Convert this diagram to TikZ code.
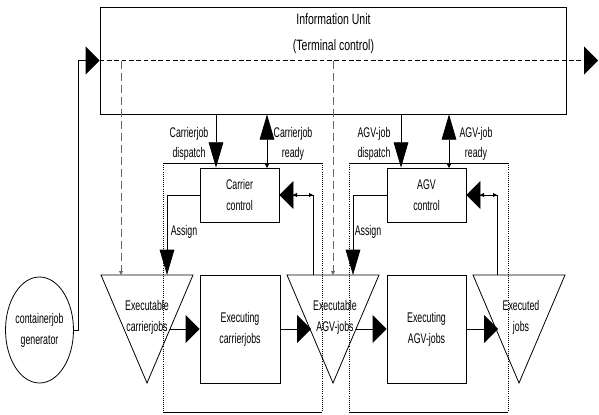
\documentclass[tikz,border=0pt]{standalone}
\usepackage{fontspec}
\setmainfont[FakeStretch=0.63]{Liberation Sans}
\newfontfamily\titlefont[FakeStretch=0.70]{Liberation Sans}
\usetikzlibrary{arrows.meta,shapes.geometric}
\tikzset{
  hB/.tip={Triangle[length=10.5pt,width=21pt]},
  vB/.tip={Triangle[length=19pt,width=11pt]},
  sm/.tip={Triangle[length=3pt,width=3pt]}
}
\begin{document}
\begin{tikzpicture}[x=0.75pt,y=-0.75pt,line width=0.6pt,
  lbl/.style={font=\fontsize{10.5}{15}\selectfont, align=center, inner sep=0pt},
  box/.style={draw, rectangle, inner sep=0pt, align=center, font=\fontsize{10.5}{15.75}\selectfont},
  hdash/.style={dash pattern=on 3.5pt off 2pt},
  vdash/.style={dash pattern=on 6pt off 3pt, draw=black!60},
  loopside/.style={densely dotted}
]
\useasboundingbox (0,0) rectangle (599,414);

% main boxes
\node[box, minimum width=349.5pt, minimum height=80.25pt] (info) at (333,60.5) {};
\node[lbl, font=\titlefont\fontsize{11.25}{19.5}\selectfont] (infotxt) at (333.5,34) {Information Unit\\(Terminal control)};

\node[draw, ellipse, minimum width=39pt, minimum height=79.5pt, inner sep=0pt, align=center,
      font=\fontsize{10.5}{15.75}\selectfont] (gen) at (39.5,330) {containerjob\\generator};

\node[box, minimum width=59.25pt, minimum height=40.5pt] (cc) at (239.5,195) {Carrier\\control};
\node[box, minimum width=59.25pt, minimum height=40.5pt] (ac) at (426.5,195) {AGV\\control};
\node[box, minimum width=60pt, minimum height=81pt] (ex1) at (240,329) {Executing\\carrierjobs};
\node[box, minimum width=59.25pt, minimum height=81pt] (ex2) at (426.5,329) {Executing\\AGV-jobs};

% triangles
\coordinate (t1a) at (101,275); \coordinate (t1b) at (193,275); \coordinate (t1c) at (147,383);
\draw (t1a) -- (t1b) -- (t1c) -- cycle;
\node[lbl, font=\fontsize{10.5}{15.75}\selectfont] (t1txt) at (147,317.5) {Executable\\carrierjobs};
\coordinate (t2a) at (287,275); \coordinate (t2b) at (379,275); \coordinate (t2c) at (333,383);
\draw (t2a) -- (t2b) -- (t2c) -- cycle;
\node[lbl, font=\fontsize{10.5}{15.75}\selectfont] (t2txt) at (335,317) {Executable\\AGV-jobs};
\coordinate (t3a) at (473,275); \coordinate (t3b) at (565,275); \coordinate (t3c) at (519,383);
\draw (t3a) -- (t3b) -- (t3c) -- cycle;
\node[lbl, font=\fontsize{10.5}{15.75}\selectfont] (t3txt) at (521,317) {Executed\\jobs};

% loop frames
\coordinate (l1a) at (163,163); \coordinate (l1b) at (322,412);
\draw (l1a) -- (l1a -| l1b);
\draw (l1a |- l1b) -- (l1b);
\draw[loopside] (l1a) -- (l1a |- l1b);
\draw[loopside] (l1a -| l1b) -- (l1b);
\coordinate (l2a) at (349,163); \coordinate (l2b) at (508,412);
\draw (l2a) -- (l2a -| l2b);
\draw (l2a |- l2b) -- (l2b);
\draw[loopside] (l2a) -- (l2a |- l2b);
\draw[loopside] (l2a -| l2b) -- (l2b);

% row arrows
\coordinate (t1r) at (170,329); \draw[-hB] (t1r) -- (ex1.west);
\coordinate (t2l) at (311,329); \draw[-hB] (ex1.east) -- (t2l);
\coordinate (t2r) at (356,329); \draw[-hB] (t2r) -- (ex2.west);
\coordinate (t3l) at (498,329); \draw[-hB] (ex2.east) -- (t3l);

% generator to info, and information flow
\coordinate (genturn) at (78,330);
\draw[-hB] (gen.east) -- (genturn) |- (info.west);
\coordinate (out) at (598,60.5);
\draw[hdash,-hB] (info.west) -- (out);
\coordinate (dv1) at (121,60.5); \coordinate (dv1e) at (121,275);
\draw[vdash,-sm] (dv1) -- (dv1e);
\coordinate (dv2) at (333,60.5); \coordinate (dv2e) at (333,275);
\draw[vdash,-sm] (dv2) -- (dv2e);

% dispatch / ready
\coordinate (cd) at (216,114); \draw[-vB] (cd) -- (cd |- cc.north);
\coordinate (cr) at (267,168); \draw[sm-vB] (cr) -- (cr |- info.south);
\coordinate (ad) at (401,114); \draw[-vB] (ad) -- (ad |- ac.north);
\coordinate (ar) at (449,168); \draw[sm-vB] (ar) -- (ar |- info.south);
\node[lbl] (l1) at (189,144) {Carrierjob\\dispatch};
\node[lbl] (l2) at (293,144) {Carrierjob\\ready};
\node[lbl] (l3) at (374,144) {AGV-job\\dispatch};
\node[lbl] (l4) at (476,144) {AGV-job\\ready};

% assign
\coordinate (as1) at (167,275); \draw[-vB] (cc.west) -| (as1);
\coordinate (as2) at (353,275); \draw[-vB] (ac.west) -| (as2);
\node[lbl] (asl1) at (184,232) {Assign};
\node[lbl] (asl2) at (368,232) {Assign};

% feedback
\coordinate (fb1) at (313,275); \coordinate (fb1c) at (313,195); \coordinate (fb1s) at (293,195);
\draw[-hB] (fb1) -- (fb1c) -- (cc.east);
\draw[sm-sm] (fb1s) -- (fb1c);
\coordinate (fb2) at (497,275); \coordinate (fb2c) at (497,195); \coordinate (fb2s) at (480,195);
\draw[-hB] (fb2) -- (fb2c) -- (ac.east);
\draw[sm-sm] (fb2s) -- (fb2c);
\end{tikzpicture}
\end{document}
